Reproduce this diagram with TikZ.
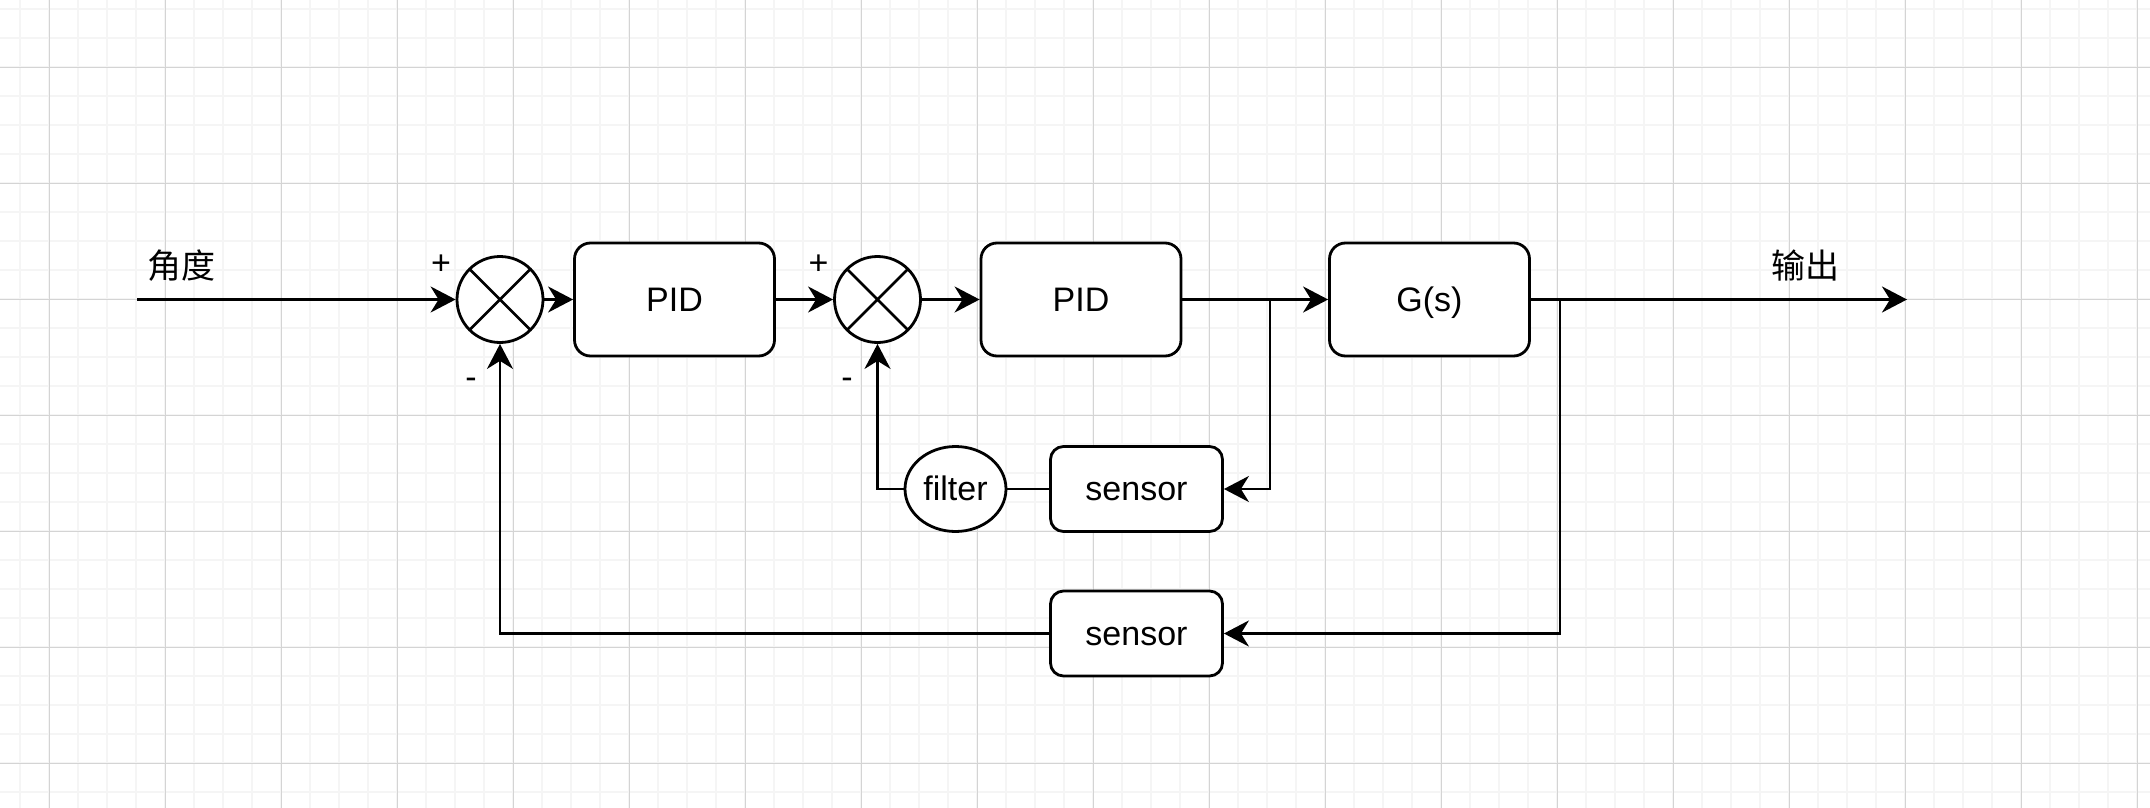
\documentclass[tikz,border=0pt]{standalone}
\usepackage{fontspec}
\setmainfont{Liberation Sans}
\newfontfamily\cjk{Noto Sans CJK SC}
\usetikzlibrary{arrows.meta,shapes.geometric}
\definecolor{gridminor}{HTML}{F5F5F5}
\definecolor{gridmajor}{HTML}{D4D4D4}
\begin{document}
\begin{tikzpicture}[x=1pt,y=-1pt,
  font=\fontsize{34}{40}\selectfont,
  blk/.style={draw, line width=2.8pt, rounded corners=16pt, fill=white, minimum width=200pt, minimum height=113pt, inner sep=0pt, text height=30.8pt, text depth=7.2pt},
  sens/.style={blk, rounded corners=13pt, minimum width=172pt, minimum height=85pt},
  filt/.style={ellipse, draw, line width=2.8pt, fill=white, minimum width=101pt, minimum height=85pt, inner sep=0pt, text height=30.8pt, text depth=7.2pt},
  sumnode/.style={circle, draw, line width=2.8pt, fill=white, minimum size=86pt, inner sep=0pt,
    path picture={\draw[line width=2.8pt] (path picture bounding box.north west) -- (path picture bounding box.south east)
      (path picture bounding box.north east) -- (path picture bounding box.south west);}},
  arr/.style={line width=2.8pt, -{Stealth[length=25pt,width=26pt,inset=8pt]}},
  conn/.style={line width=2.8pt},
  minorline/.style={draw=gridminor, line width=2pt},
  majorline/.style={draw=gridmajor, line width=1.2pt},
  lbl/.style={inner sep=0pt}
]
\useasboundingbox[fill=white] (0,0) rectangle (2150,808);
% grid
\foreach \k in {0,...,73} { \draw[minorline] ({20.3+29*\k},0) -- ({20.3+29*\k},808); }
\foreach \k in {0,...,27} { \draw[minorline] (0,{9.3+29*\k}) -- (2150,{9.3+29*\k}); }
\foreach \k in {0,...,18} { \draw[majorline] ({49.3+116*\k},0) -- ({49.3+116*\k},808); }
\foreach \k in {0,...,6} { \draw[majorline] (0,{67.3+116*\k}) -- (2150,{67.3+116*\k}); }

% nodes
\node[sumnode] (sum1) at (500,299.5) {};
\node[blk] (pid1) at (674.5,299.5) {PID};
\node[sumnode] (sum2) at (877.5,299.5) {};
\node[blk] (pid2) at (1081,299.5) {PID};
\node[blk] (gs) at (1429.5,299.5) {G(s)};
\node[sens] (sen1) at (1136.5,489) {sensor};
\node[filt] (filter) at (955.5,489) {filter};
\node[sens] (sen2) at (1136.5,633.5) {sensor};

\coordinate (in) at (137,299.5);
\coordinate (out) at (1907,299.5);
\coordinate (b1) at (1270,299.5);
\coordinate (b2) at (1560,299.5);

% labels
\node[lbl] (lin) at (181,266) {\cjk 角度};
\node[lbl] (lout) at (1805,266) {\cjk 输出};
\node[lbl] (p1) at (441,265) {+};
\node[lbl] (m1) at (471,383) {-};
\node[lbl] (p2) at (818.6,265) {+};
\node[lbl] (m2) at (847,383) {-};

% connectors
\draw[arr] (in) -- (sum1.west);
\draw[arr] (sum1.east) -- (pid1.west);
\draw[arr] (pid1.east) -- (sum2.west);
\draw[arr] (sum2.east) -- (pid2.west);
\draw[arr] (pid2.east) -- (gs.west);
\draw[arr] (gs.east) -- (out);
\draw[arr] (b1) |- (sen1.east);
\draw[conn] (sen1.west) -- (filter.east);
\draw[arr] (filter.west) -| (sum2.south);
\draw[arr] (b2) |- (sen2.east);
\draw[arr] (sen2.west) -| (sum1.south);
\end{tikzpicture}
\end{document}
